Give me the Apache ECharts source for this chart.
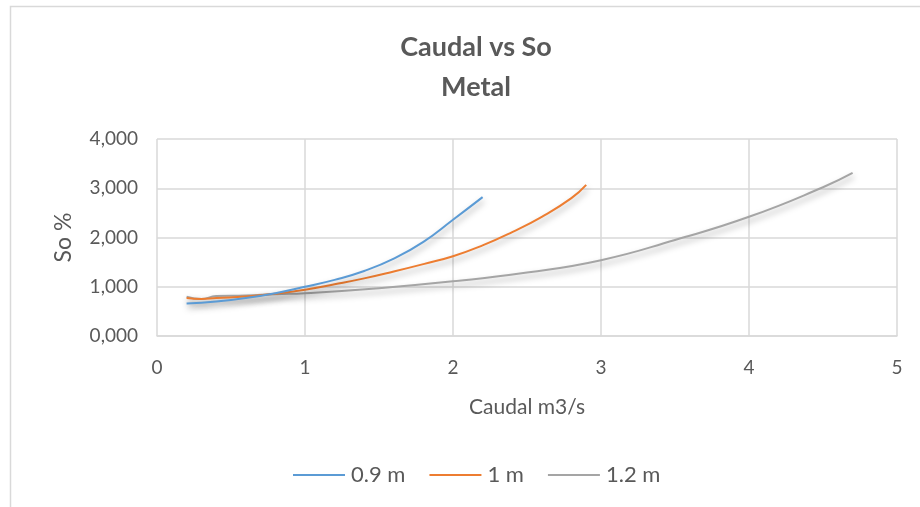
<!DOCTYPE html>
<html>
<head>
<meta charset="utf-8">
<script src="https://cdn.jsdelivr.net/npm/echarts@6/dist/echarts.min.js"></script>
<style>
  html, body { margin: 0; padding: 0; background: #fff; }
  #chart { width: 920px; height: 507px; }
</style>
</head>
<body>
<div id="chart"></div>
<script>
// Caudal (m3/s) against slope So for three pipe diameters
const seriesNames = ['0.9 m', '1 m', '1.2 m'];

const caudal09 = [0.2, 0.4, 0.6, 0.8, 1.0, 1.2, 1.4, 1.6, 1.8, 2.0, 2.2];
const so09     = [0.66, 0.70, 0.77, 0.87, 1.00, 1.14, 1.32, 1.57, 1.91, 2.36, 2.82];

const caudal10 = [0.2, 0.3, 0.4, 0.6, 0.8, 1.0, 1.2, 1.4, 1.6, 1.8, 2.0, 2.2, 2.4, 2.6, 2.8, 2.9];
const so10     = [0.77, 0.75, 0.77, 0.80, 0.86, 0.94, 1.05, 1.17, 1.31, 1.46, 1.62, 1.84, 2.11, 2.42, 2.80, 3.07];

const caudal12 = [0.2, 0.3, 0.4, 0.6, 0.8, 1.0, 1.5, 2.0, 2.5, 3.0, 3.5, 4.0, 4.5, 4.7];
const so12     = [0.80, 0.75, 0.81, 0.82, 0.85, 0.87, 0.97, 1.11, 1.29, 1.54, 1.95, 2.42, 3.02, 3.31];

const colors = ['#5B9BD5', '#ED7D31', '#A5A5A5'];

const xTicks = [0, 1, 2, 3, 4, 5];
const yTicks = [0, 1, 2, 3, 4];

const pairs = (xs, ys) => xs.map((x, i) => [x, ys[i]]);
const dataSets = [pairs(caudal09, so09), pairs(caudal10, so10), pairs(caudal12, so12)];

const txt = '#595959';
const font = 'Lato, "Open Sans", sans-serif';

const chart = echarts.init(document.getElementById('chart'));
chart.setOption({
  animation: false,
  backgroundColor: '#fff',
  graphic: [{
    type: 'rect',
    shape: { x: 10.5, y: 6.5, width: 940, height: 540 },
    style: { fill: 'none', stroke: '#d9d9d9', lineWidth: 1.5 },
    silent: true, z: -1
  }],
  title: {
    text: 'Caudal vs So\nMetal',
    left: 471, top: 22, textAlign: 'center',
    textStyle: { fontFamily: font, fontSize: 27, fontWeight: 'bold', color: txt, lineHeight: 40 }
  },
  legend: {
    top: 459, left: 288,
    icon: 'rect', itemWidth: 52, itemHeight: 2, itemGap: 24,
    textStyle: { fontFamily: font, fontSize: 22, color: txt, padding: [0, 0, 0, 1] },
    data: seriesNames
  },
  grid: { left: 157, right: 23, top: 139, bottom: 171, containLabel: false },
  xAxis: {
    type: 'value', min: xTicks[0], max: xTicks[xTicks.length - 1], interval: 1,
    name: 'Caudal m3/s', nameLocation: 'middle', nameGap: 61,
    nameTextStyle: { fontFamily: font, fontSize: 21, color: txt },
    axisLine: { show: true, lineStyle: { color: '#d9d9d9', width: 1.5 } },
    axisTick: { show: false },
    axisLabel: { fontFamily: font, fontSize: 19, color: txt, margin: 22 },
    splitLine: { show: true, lineStyle: { color: '#d9d9d9', width: 1.5 } }
  },
  yAxis: {
    type: 'value', min: yTicks[0], max: yTicks[yTicks.length - 1], interval: 1,
    name: 'So %', nameLocation: 'middle', nameGap: 82, nameRotate: 90,
    nameTextStyle: { fontFamily: font, fontSize: 23, color: txt },
    axisLine: { show: false },
    axisTick: { show: false },
    axisLabel: {
      fontFamily: font, fontSize: 19, color: txt, margin: 19,
      formatter: v => v.toFixed(3).replace('.', ',')
    },
    splitLine: { show: true, lineStyle: { color: '#d9d9d9', width: 1.5 } }
  },
  series: seriesNames.map((name, i) => ({
    name, type: 'line', smooth: 0.5, symbol: 'none',
    data: dataSets[i],
    color: colors[i],
    lineStyle: {
      color: colors[i], width: 2,
      shadowColor: 'rgba(0,0,0,0.35)', shadowBlur: 6, shadowOffsetY: 4, shadowOffsetX: 1
    },
    z: 3 - i
  }))
});
</script>
</body>
</html>
